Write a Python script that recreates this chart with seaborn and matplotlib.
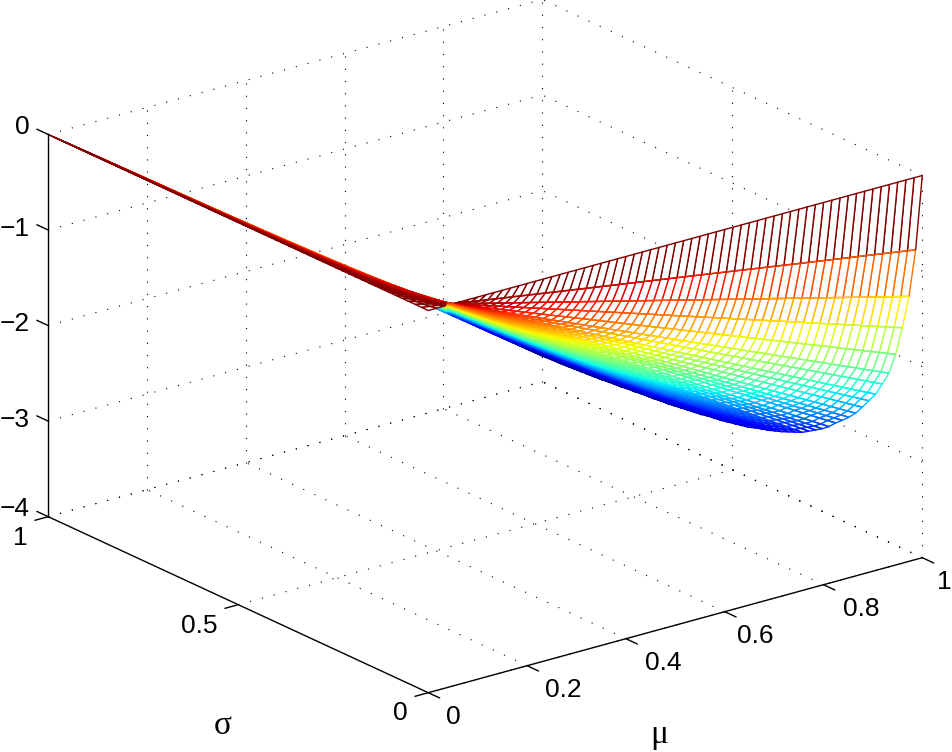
import seaborn as sns
import numpy as np
import matplotlib
matplotlib.use("Agg")
import matplotlib.pyplot as plt
from matplotlib.colors import Normalize
from mpl_toolkits.mplot3d import proj3d
from mpl_toolkits.mplot3d.art3d import Line3DCollection

mu_values = [0.0, 0.0167, 0.0333, 0.05, 0.0667, 0.0833, 0.1, 0.1167, 0.1333, 0.15, 0.1667, 0.1833,
             0.2, 0.2167, 0.2333, 0.25, 0.2667, 0.2833, 0.3, 0.3167, 0.3333, 0.35, 0.3667, 0.3833,
             0.4, 0.4167, 0.4333, 0.45, 0.4667, 0.4833, 0.5, 0.5167, 0.5333, 0.55, 0.5667, 0.5833,
             0.6, 0.6167, 0.6333, 0.65, 0.6667, 0.6833, 0.7, 0.7167, 0.7333, 0.75, 0.7667, 0.7833,
             0.8, 0.8167, 0.8333, 0.85, 0.8667, 0.8833, 0.9, 0.9167, 0.9333, 0.95, 0.9667, 0.9833, 1.0]

sigma_values = [0.0, 0.0175, 0.0351, 0.0526, 0.0702, 0.0877, 0.1053, 0.1228, 0.1404, 0.1579,
                0.1754, 0.193, 0.2105, 0.2281, 0.2456, 0.2632, 0.2807, 0.2982, 0.3158, 0.3333,
                0.3509, 0.3684, 0.386, 0.4035, 0.4211, 0.4386, 0.4561, 0.4737, 0.4912, 0.5088,
                0.5263, 0.5439, 0.5614, 0.5789, 0.5965, 0.614, 0.6316, 0.6491, 0.6667, 0.6842,
                0.7018, 0.7193, 0.7368, 0.7544, 0.7719, 0.7895, 0.807, 0.8246, 0.8421, 0.8596,
                0.8772, 0.8947, 0.9123, 0.9298, 0.9474, 0.9649, 0.9825, 1.0]

edge_z = [0.0, -0.81, -1.33, -1.69, -2.0, -2.23, -2.375, -2.515, -2.615, -2.715,
          -2.81, -2.885, -2.95, -3.01, -3.08, -3.135, -3.18, -3.225, -3.27, -3.3,
          -3.33, -3.36, -3.385, -3.41, -3.43, -3.45, -3.475, -3.49, -3.505, -3.52,
          -3.535, -3.545, -3.555, -3.57, -3.58, -3.59, -3.6, -3.61, -3.62, -3.625,
          -3.635, -3.64, -3.645, -3.655, -3.66, -3.67, -3.675, -3.68, -3.69, -3.695,
          -3.7, -3.705, -3.71, -3.715, -3.72, -3.72, -3.725, -3.73]

mu_ticks = [0, 0.2, 0.4, 0.6, 0.8, 1]
sigma_ticks = [0, 0.5, 1]
z_ticks = [-4, -3, -2, -1, 0]

W, H = 952, 752

sns.set_style("white")
plt.rcParams["font.family"] = ["Liberation Sans", "DejaVu Sans"]
plt.rcParams["text.color"] = "k"
jet = plt.get_cmap("jet")

fig = plt.figure(figsize=(W / 100, H / 100), dpi=100)
ax = fig.add_axes([0, 0, 1, 1], projection="3d", proj_type="ortho", computed_zorder=False)
ax.set_xlim(0, 1, view_margin=0)
ax.set_ylim(0, 1, view_margin=0)
ax.set_zlim(-4, 0, view_margin=0)
ax.set_box_aspect((623, 624, 409))
ax.view_init(elev=20.84, azim=232.47)
ax.set_axis_off()
ax.patch.set_alpha(0)

# place the box so its corners land where the original has them
M = ax.get_proj()
ox, oy, _ = proj3d.proj_transform(0, 0, -4, M)
ex, ey, _ = proj3d.proj_transform(1, 0, -4, M)
scale = 494 / (ex - ox)
side = scale * ax.viewLim.width
left = 428.3 - (ox - ax.viewLim.x0) * scale
bottom = (H - 692.7) - (oy - ax.viewLim.y0) * scale
ax.set_position([left / W, bottom / H, side / W, side / H])

# dotted box grid
grid = dict(color="k", lw=0.8, ls=(0, (1, 10)), zorder=1, clip_on=False)
for m in mu_ticks[1:]:
    ax.plot([m, m], [0, 1], [-4, -4], **grid)
    ax.plot([m, m], [1, 1], [-4, 0], **grid)
for s in sigma_ticks[:-1]:
    ax.plot([0, 1], [s, s], [-4, -4], **grid)
    ax.plot([1, 1], [s, s], [-4, 0], **grid)
ax.plot([0, 1], [1, 1], [-4, -4], **grid)
ax.plot([1, 1], [0, 1], [-4, -4], **grid)
for z in z_ticks:
    ax.plot([0, 1], [1, 1], [z, z], **grid)
    ax.plot([1, 1], [0, 1], [z, z], **grid)

# mesh: sigma lines read as straight in mu, so each one runs from 0 up to its edge value
X, Y = np.meshgrid(mu_values, sigma_values, indexing="ij")
Z = np.outer(mu_values, edge_z)
norm = Normalize(min(edge_z), 0)
surf = ax.plot_surface(X, Y, Z, rstride=1, cstride=1, color="white", shade=False,
                       linewidth=1.0, antialiased=True, zorder=2)
surf.set_edgecolor(jet(norm(Z[:-1, :-1].ravel())))

# redraw the sigma lines right of the fold in their own colour, a polygon has only one edge colour
segs, cols = [], []
for k in range(1, len(sigma_values)):
    for j in range(len(mu_values) - 1):
        if mu_values[j] > 0.035 + 0.77 * sigma_values[k]:
            segs.append([(mu_values[j], sigma_values[k], Z[j, k]),
                         (mu_values[j + 1], sigma_values[k], Z[j + 1, k])])
            cols.append(jet(norm(Z[j, k])))
ax.add_collection3d(Line3DCollection(segs, colors=cols, linewidths=1.0, zorder=2.5))

# axis lines and ticks
line = dict(color="k", lw=1.0, zorder=3, clip_on=False)
ax.plot([0, 1], [0, 0], [-4, -4], **line)
ax.plot([0, 0], [0, 1], [-4, -4], **line)
ax.plot([0, 0], [1, 1], [-4, 0], **line)
for m in mu_ticks:
    ax.plot([m, m], [0, -0.03], [-4, -4], **line)
for s in sigma_ticks:
    ax.plot([0, -0.027], [s, s], [-4, -4], **line)
for z in z_ticks:
    ax.plot([0, 0], [1, 1.03], [z, z], **line)

# labels
def label(x, y, text, size=19, **kw):
    kw.setdefault("ha", "center")
    fig.text(x / W, 1 - y / H, text, va="center", fontsize=size, **kw)

for x, y, t in zip([453, 563, 663, 755, 861, 944.5], [717, 690, 663, 636, 609, 582], mu_ticks):
    label(x, y, str(t))
for x, y, t in zip([400, 199, 20], [713, 626, 538], sigma_ticks):
    label(x, y, str(t))
for y, t in zip([509, 420, 324, 229, 127], z_ticks):
    label(30, y, str(t).replace("-", "\u2212"), ha="right")
label(223, 726, "\u03c3", size=24, family="Liberation Serif")
label(659, 735, "\u03bc", size=24, family="Liberation Serif")

fig.savefig("out.png", dpi=100)
